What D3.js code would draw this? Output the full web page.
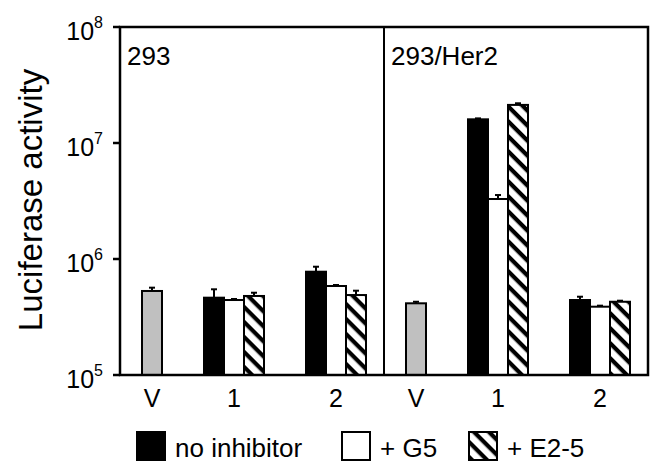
<!DOCTYPE html>
<html>
<head>
<meta charset="utf-8">
<script src="https://cdn.jsdelivr.net/npm/d3@7"></script>
<style>
  body { margin: 0; background: #fff; }
  text { font-family: Arial, "Liberation Sans", sans-serif; fill: #000; }
</style>
</head>
<body>
<script>
const panelNames = ["293", "293/Her2"];
const categories = ["V", "1", "2"];
const seriesNames = ["no inhibitor", "+ G5", "+ E2-5"];
const yTicks = [1e5, 1e6, 1e7, 1e8];

// vector control (V), one value per panel
const vectorMean = [530000, 415000];
const vectorErr = [36000, 13000];

// constructs 1 and 2: [293 c1, 293 c2, Her2 c1, Her2 c2]
const noInhibitorMean = [464000, 777000, 16000000, 443000];
const noInhibitorErr = [84000, 81000, 300000, 30000];
const g5Mean = [443000, 585000, 3290000, 388000];
const g5Err = [9000, 12000, 270000, 8000];
const e25Mean = [480000, 489000, 21300000, 428000];
const e25Err = [32000, 44000, 700000, 9000];

const W = 663, H = 474;
const plotL = 120, plotR = 648, plotT = 27, plotB = 375;
const mid = (plotL + plotR) / 2;

const svg = d3.select("body").append("svg")
  .attr("width", W).attr("height", H);

const defs = svg.append("defs");
const pat = defs.append("pattern")
  .attr("id", "hatch")
  .attr("patternUnits", "userSpaceOnUse")
  .attr("width", 10.6).attr("height", 10.6)
  .attr("patternTransform", "rotate(45)");
pat.append("rect").attr("width", 10.6).attr("height", 10.6).attr("fill", "#fff");
pat.append("rect").attr("width", 10.6).attr("height", 4.2).attr("fill", "#000");

const y = d3.scaleLog().domain([1e5, 1e8]).range([plotB, plotT]);

const fills = ["#000", "#fff", "url(#hatch)"];
const means = [noInhibitorMean, g5Mean, e25Mean];
const errs = [noInhibitorErr, g5Err, e25Err];

// slot layout in bar-width units: pad, V, gap, 3 bars, gap, 3 bars, pad
const padL = 1.1, padR = 0.9, gap = 2.1;
const nBars = [1, seriesNames.length, seriesNames.length];
const totalUnits = padL + padR + d3.sum(nBars) + gap * (nBars.length - 1);
const starts = [];
let acc = padL;
nBars.forEach(n => { starts.push(acc); acc += n + gap; });

const bars = [];
panelNames.forEach((p, pi) => {
  const x = d3.scaleLinear().domain([0, totalUnits])
    .range(pi === 0 ? [plotL, mid] : [mid, plotR]);
  categories.forEach((c, ci) => {
    const s = starts[ci];
    svg.append("text")
      .attr("x", x(s + nBars[ci] / 2)).attr("y", 407)
      .attr("text-anchor", "middle").attr("font-size", 25)
      .text(c);
    if (ci === 0) {
      bars.push({ x0: x(s), x1: x(s + 1), v: vectorMean[pi], e: vectorErr[pi], fill: "#c0c0c0" });
    } else {
      const k = pi * 2 + (ci - 1);
      seriesNames.forEach((sn, si) => {
        bars.push({ x0: x(s + si), x1: x(s + si + 1), v: means[si][k], e: errs[si][k], fill: fills[si] });
      });
    }
  });
  svg.append("text")
    .attr("x", (pi === 0 ? plotL : mid) + 7).attr("y", 65)
    .attr("font-size", 26)
    .text(p);
});

// error bars
const eg = svg.append("g").attr("stroke", "#000").attr("stroke-width", 2);
bars.forEach(b => {
  const cx = (b.x0 + b.x1) / 2;
  eg.append("line").attr("x1", cx).attr("x2", cx)
    .attr("y1", y(b.v)).attr("y2", y(b.v + b.e));
  eg.append("line").attr("x1", cx - 3).attr("x2", cx + 3)
    .attr("y1", y(b.v + b.e)).attr("y2", y(b.v + b.e));
});

svg.append("g").selectAll("rect").data(bars).join("rect")
  .attr("x", d => d.x0).attr("width", d => d.x1 - d.x0)
  .attr("y", d => y(d.v)).attr("height", d => plotB - y(d.v))
  .attr("fill", d => d.fill)
  .attr("stroke", "#000").attr("stroke-width", 2);

// frame
svg.append("rect")
  .attr("x", plotL).attr("y", plotT)
  .attr("width", plotR - plotL).attr("height", plotB - plotT)
  .attr("fill", "none").attr("stroke", "#000").attr("stroke-width", 2.5);
svg.append("line")
  .attr("x1", mid).attr("x2", mid).attr("y1", plotT).attr("y2", plotB)
  .attr("stroke", "#000").attr("stroke-width", 2);

// y axis ticks
const ya = svg.append("g");
yTicks.forEach(t => {
  ya.append("line").attr("x1", plotL - 7).attr("x2", plotL)
    .attr("y1", y(t)).attr("y2", y(t))
    .attr("stroke", "#000").attr("stroke-width", 2.5);
  const lab = ya.append("text")
    .attr("x", 103).attr("y", y(t) + 13)
    .attr("text-anchor", "end").attr("font-size", 25);
  lab.append("tspan").text("10");
  lab.append("tspan").attr("font-size", 16).attr("dy", -12)
    .text(Math.round(Math.log10(t)));
});

svg.append("text")
  .attr("transform", `translate(42,200) rotate(-90)`)
  .attr("text-anchor", "middle").attr("font-size", 33)
  .text("Luciferase activity");

// legend
const legX = [137, 342, 469];
const lg = svg.append("g");
seriesNames.forEach((s, i) => {
  lg.append("rect")
    .attr("x", legX[i]).attr("y", 432).attr("width", 28).attr("height", 28)
    .attr("fill", fills[i]).attr("stroke", "#000").attr("stroke-width", 2);
  lg.append("text")
    .attr("x", legX[i] + 38).attr("y", 457)
    .attr("font-size", 26)
    .text(s);
});
</script>
</body>
</html>
